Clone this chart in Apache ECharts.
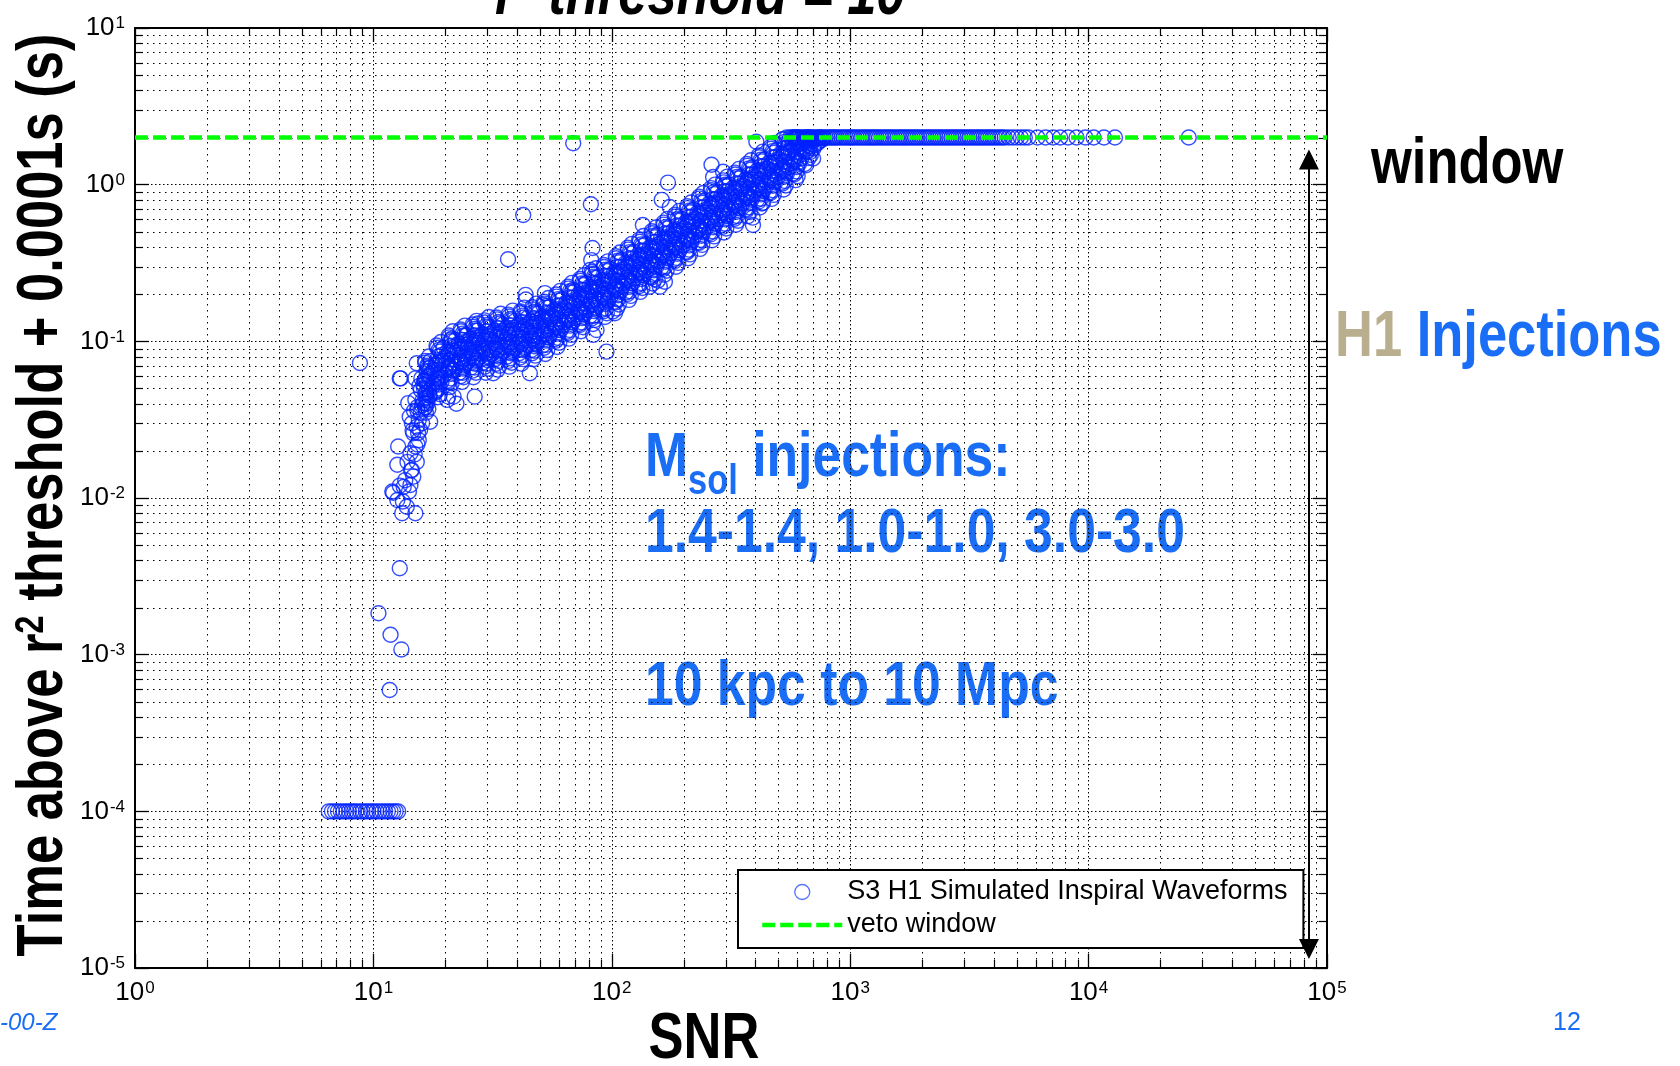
<!DOCTYPE html>
<html><head><meta charset="utf-8">
<script src="https://cdn.jsdelivr.net/npm/echarts@6/dist/echarts.min.js"></script>
<style>html,body{margin:0;padding:0;background:#fff}#c{width:1680px;height:1066px}</style>
</head><body><div id="c"></div>
<script>
// ---------- data ----------
const xDecades = [1, 10, 100, 1000, 10000, 100000];
const yDecades = [1e-5, 1e-4, 1e-3, 1e-2, 1e-1, 1, 10];
const minorMultipliers = [2, 3, 4, 5, 6, 7, 8, 9];
const vetoWindow = 2;
const seriesNames = ['S3 H1 Simulated Inspiral Waveforms', 'veto window'];

// injections whose time is at the 0.0001 s floor
const floorSNR = [6.5,6.7,6.9,7.1,7.3,7.5,7.7,7.9,8.1,8.3,8.5,8.8,9.0,9.3,9.5,9.8,10.0,10.3,10.6,10.9,11.2,11.5,11.8,12.1,12.4,12.7];
const floorTime = 1e-4;

// the steep rise at low SNR
const risePoints = [
[8.78,0.0728],[12.9,3.56e-3],[10.5,1.84e-3],[11.8,1.34e-3],[13.1,1.08e-3],[11.7,5.95e-4],
[12.7,0.0213],[12.6,0.0163],[14.5,0.0151],[12.0,0.0110],[13.4,0.0118],[14.3,0.0121],[12.6,0.0097],
[13.2,0.0080],[15.0,0.0080],[13.8,0.0088],[14.7,0.0137],[14.3,0.0193],[15.0,0.0213],[14.7,0.0259],
[15.2,0.0285],[15.7,0.0272],[15.5,0.0234],[14.5,0.030],[17.3,0.0307],[15.5,0.0315],[14.0,0.0403],
[15.0,0.0423],[16.2,0.0403],[13.0,0.058],[15.2,0.0725],[17.0,0.0673],[15.0,0.058],[16.7,0.0552],
[18.5,0.0489],[20.4,0.0423],[21.7,0.0444],[12.1,0.0108],[14.2,0.033],[14.8,0.036],[15.3,0.038],
[14.6,0.027],[15.4,0.026],[15.8,0.035],[16.0,0.030],[14.9,0.019],[15.3,0.022],[13.9,0.017],
[13.6,0.013],[14.1,0.011],[13.3,0.0095],[12.9,0.012],[15.2,0.017],[14.4,0.015],[16.5,0.040],[17.2,0.045]
];

// main band (first pass)
const bandPoints = [
[15.3,0.036],[15.8,0.049],[16.1,0.042],[16.4,0.056],[16.7,0.047],[15.6,0.052],[16.0,0.039],[16.3,0.050],[16.6,0.044],[15.9,0.058],[16.5,0.038],[16.2,0.053],
[17.1,0.048],[17.5,0.063],[17.8,0.054],[18.2,0.071],[18.5,0.058],[17.3,0.068],[17.6,0.051],[18.0,0.061],[18.4,0.055],[17.4,0.075],[18.1,0.047],[17.9,0.066],
[19.2,0.058],[19.6,0.075],[20.0,0.065],[20.4,0.086],[20.8,0.070],[19.4,0.082],[19.8,0.061],[20.2,0.072],[20.6,0.067],[19.7,0.091],[20.5,0.056],[20.1,0.079],
[21.5,0.065],[22.0,0.085],[22.4,0.073],[22.8,0.097],[23.3,0.079],[21.8,0.092],[22.2,0.069],[22.6,0.081],[23.1,0.075],[22.1,0.102],[22.9,0.063],[22.5,0.089],
[24.0,0.070],[24.6,0.091],[25.0,0.078],[25.5,0.104],[26.0,0.085],[24.3,0.099],[24.8,0.074],[25.2,0.087],[25.8,0.081],[24.5,0.109],[25.6,0.068],[25.1,0.096],
[26.9,0.075],[27.5,0.098],[28.0,0.084],[28.6,0.111],[29.1,0.091],[27.2,0.106],[27.7,0.079],[28.3,0.093],[28.9,0.087],[27.4,0.117],[28.7,0.073],[28.1,0.102],
[30.3,0.079],[31.0,0.103],[31.6,0.088],[32.2,0.117],[32.9,0.096],[30.7,0.111],[31.3,0.083],[31.9,0.098],[32.6,0.091],[31.1,0.123],[32.4,0.077],[31.7,0.108],
[34.1,0.082],[34.8,0.107],[35.5,0.092],[36.2,0.122],[36.9,0.100],[34.4,0.116],[35.2,0.087],[35.8,0.102],[36.6,0.095],[34.9,0.128],[36.4,0.080],[35.6,0.112],
[38.4,0.086],[39.2,0.112],[40.0,0.096],[40.8,0.128],[41.6,0.105],[38.8,0.122],[39.6,0.091],[40.4,0.107],[41.2,0.099],[39.4,0.135],[40.9,0.084],[40.1,0.118],
[43.2,0.090],[44.1,0.118],[45.0,0.101],[45.9,0.134],[46.8,0.110],[43.6,0.128],[44.6,0.095],[45.4,0.112],[46.4,0.104],[44.3,0.141],[46.0,0.088],[45.2,0.123],
[48.0,0.096],[49.0,0.126],[50.0,0.108],[51.0,0.143],[52.0,0.118],[48.5,0.137],[49.5,0.102],[50.5,0.120],[51.5,0.111],[49.2,0.151],[51.2,0.094],[50.2,0.132],
[53.8,0.106],[54.9,0.139],[56.0,0.119],[57.1,0.158],[58.2,0.130],[54.3,0.151],[55.4,0.112],[56.6,0.132],[57.7,0.122],[55.1,0.166],[57.3,0.103],[56.2,0.145],
[60.5,0.118],[61.7,0.155],[63.0,0.133],[64.3,0.177],[65.5,0.146],[61.1,0.169],[62.4,0.126],[63.6,0.148],[64.9,0.137],[62.0,0.186],[64.5,0.115],[63.2,0.163],
[68.2,0.133],[69.6,0.174],[71.0,0.149],[72.4,0.199],[73.8,0.163],[68.9,0.190],[70.3,0.141],[71.7,0.166],[73.1,0.154],[69.9,0.209],[72.6,0.129],[71.2,0.183],
[75.8,0.149],[77.4,0.195],[79.0,0.167],[80.6,0.223],[82.2,0.183],[76.6,0.212],[78.2,0.158],[79.8,0.186],[81.4,0.172],[77.7,0.234],[80.9,0.145],[79.3,0.205],
[85.4,0.163],[87.2,0.214],[89.0,0.184],[90.8,0.245],[92.6,0.200],[86.3,0.233],[88.1,0.173],[89.9,0.204],[91.7,0.190],[87.5,0.257],[91.0,0.159],[89.2,0.224],
[96,0.183],[98,0.240],[100,0.206],[102,0.275],[104,0.225],[97,0.261],[99,0.195],[101,0.229],[103,0.213],[98.5,0.289],[102.5,0.179],[100.5,0.252],
[107.5,0.210],[109.8,0.276],[112,0.237],[114.2,0.316],[116.5,0.258],[108.6,0.300],[110.9,0.224],[113.1,0.263],[115.4,0.245],[110,0.331],[114.6,0.205],[112.5,0.289],
[121,0.236],[123.5,0.310],[126,0.266],[128.5,0.354],[131,0.289],[122,0.336],[124.7,0.251],[127.3,0.295],[129.8,0.274],[123.8,0.372],[129,0.230],[126.4,0.325],
[135,0.265],[138,0.348],[141,0.298],[144,0.397],[147,0.324],[136.5,0.377],[139.5,0.282],[142.5,0.331],[145.5,0.308],[138.5,0.417],[144.5,0.258],[141.5,0.364],
[152,0.304],[155,0.399],[158,0.342],[161,0.456],[164,0.372],[153.5,0.433],[156.5,0.323],[159.5,0.380],[162.5,0.353],[155.5,0.479],[161.5,0.296],[158.5,0.418],
[171,0.342],[174.5,0.448],[178,0.384],[181.5,0.512],[185,0.418],[172.7,0.487],[176.2,0.363],[179.8,0.427],[183.3,0.397],[175,0.538],[182,0.333],[178.5,0.470],
[192,0.383],[196,0.503],[200,0.431],[204,0.575],[208,0.469],[194,0.546],[198,0.407],[202,0.479],[206,0.445],[196.5,0.604],[204.5,0.374],[200.5,0.527],
[215,0.440],[219.5,0.578],[224,0.495],[228.5,0.660],[233,0.539],[217,0.627],[221.8,0.468],[226.2,0.550],[230.8,0.512],[220,0.693],[229,0.429],[224.5,0.605],
[241,0.505],[246,0.663],[251,0.568],[256,0.757],[261,0.618],[243.5,0.719],[248.5,0.536],[253.5,0.631],[258.5,0.587],[246.5,0.795],[256.5,0.492],[251.5,0.694],
[271,0.566],[276,0.743],[282,0.637],[288,0.850],[293,0.694],[273.5,0.807],[279,0.602],[285,0.708],[290.5,0.658],[277,0.892],[288.5,0.552],[282.5,0.779],
[303,0.635],[310,0.834],[316,0.715],[322,0.953],[329,0.778],[306.5,0.905],[313,0.675],[319,0.794],[325.5,0.738],[310.5,1.00],[323,0.619],[316.5,0.873],
[341,0.713],[348,0.936],[355,0.802],[362,1.07],[369,0.873],[344.5,1.016],[351.5,0.757],[358.5,0.891],[365.5,0.829],[348.5,1.12],[363,0.695],[355.5,0.980],
[382,0.818],[390,1.074],[398,0.921],[406,1.228],[414,1.003],[386,1.166],[394,0.870],[402,1.023],[410,0.951],[390.5,1.29],[407,0.798],[398.5,1.125],
[429,0.918],[438,1.205],[447,1.033],[456,1.378],[465,1.125],[433.5,1.309],[442.5,0.976],[451.5,1.148],[460.5,1.068],[438.5,1.45],[457,0.895],[447.5,1.263],
[481,1.054],[491,1.384],[501,1.186],[511,1.58],[521,1.292],[486,1.503],[496,1.120],[506,1.318],[516,1.226],[491.5,1.66],[512,1.028],[501.5,1.450],
[540,1.211],[551,1.590],[562,1.363],[573,1.80],[584,1.484],[545.5,1.726],[556.5,1.287],[567.5,1.514],[578.5,1.408],[551.5,1.87],[574,1.181],[562.5,1.665],
[606,1.390],[618,1.825],[631,1.564],[644,1.98],[656,1.703],[612,1.90],[624.5,1.477],[637.5,1.738],[650,1.616],[619,1.96],[644.5,1.356],[631.5,1.85],
[680,1.62],[694,1.90],[708,1.78],[722,1.99],[736,1.88],[687,1.97],[701,1.70],[715,1.95],[729,1.84],[745,2.0],[760,1.93],[775,1.98]
];

// main band (second pass, between the first-pass groups)
const bandPoints2 = [
[16.5,.038],[16.9,.042],[16.6,.047],[17.0,.050],[16.8,.053],[16.4,.056],[17.1,.060],[16.7,.064],[16.9,.069],[16.5,.073],[17.2,.045],[16.6,.058],
[18.4,.048],[18.9,.053],[18.6,.058],[19.1,.063],[18.8,.066],[18.3,.070],[19.2,.075],[18.7,.080],[19.0,.086],[18.5,.091],[19.3,.055],[18.6,.073],
[20.7,.055],[21.2,.062],[20.9,.068],[21.5,.073],[21.1,.077],[20.6,.082],[21.6,.087],[21.0,.093],[21.3,.100],[20.8,.106],[21.7,.065],[20.9,.085],
[23.2,.060],[23.8,.067],[23.4,.074],[24.1,.080],[23.7,.084],[23.1,.089],[24.2,.095],[23.6,.102],[23.9,.109],[23.3,.116],[24.3,.071],[23.5,.092],
[26.0,.065],[26.7,.072],[26.3,.079],[27.0,.086],[26.6,.090],[25.9,.095],[27.1,.102],[26.5,.109],[26.8,.117],[26.2,.124],[27.2,.076],[26.4,.099],
[29.3,.069],[30.0,.076],[29.6,.084],[30.4,.091],[29.9,.096],[29.1,.101],[30.5,.108],[29.8,.116],[30.2,.124],[29.4,.132],[30.6,.080],[29.7,.105],
[32.8,.072],[33.6,.080],[33.1,.088],[34.0,.095],[33.5,.100],[32.7,.106],[34.2,.113],[33.4,.121],[33.9,.130],[33.0,.138],[34.3,.084],[33.2,.110],
[36.8,.075],[37.7,.084],[37.2,.092],[38.2,.099],[37.6,.105],[36.7,.111],[38.4,.118],[37.5,.126],[38.0,.136],[37.0,.144],[38.5,.088],[37.3,.115],
[41.3,.079],[42.3,.088],[41.7,.096],[42.9,.104],[42.2,.110],[41.2,.116],[43.1,.124],[42.0,.132],[42.6,.142],[41.5,.151],[43.2,.092],[41.9,.120],
[46.3,.084],[47.4,.093],[46.8,.102],[48.1,.110],[47.3,.116],[46.2,.123],[48.3,.131],[47.1,.140],[47.8,.151],[46.6,.160],[48.4,.097],[46.9,.128],
[52.0,.091],[53.2,.101],[52.5,.111],[54.0,.120],[53.1,.126],[51.9,.134],[54.2,.142],[52.9,.152],[53.7,.164],[52.3,.174],[54.4,.106],[52.7,.139],
[58.3,.101],[59.7,.112],[58.9,.123],[60.6,.133],[59.6,.140],[58.2,.148],[60.9,.158],[59.3,.169],[60.3,.182],[58.6,.193],[61.0,.118],[59.1,.154],
[65.4,.113],[67.0,.126],[66.1,.138],[68.0,.149],[66.8,.157],[65.2,.166],[68.3,.177],[66.5,.190],[67.6,.204],[65.8,.217],[68.4,.132],[66.3,.173],
[73.4,.127],[75.2,.141],[74.2,.155],[76.3,.167],[75.0,.176],[73.2,.187],[76.6,.199],[74.6,.213],[75.8,.229],[73.8,.243],[76.8,.148],[74.4,.194],
[82.3,.140],[84.3,.156],[83.2,.172],[85.6,.185],[84.1,.195],[82.1,.207],[85.9,.220],[83.7,.236],[85.0,.254],[82.8,.269],[86.1,.164],[83.4,.215],
[92.4,.156],[94.6,.173],[93.4,.190],[96.1,.205],[94.4,.216],[92.2,.229],[96.4,.244],[93.9,.261],[95.4,.281],[92.9,.298],[96.6,.181],[93.6,.238],
[103.7,.177],[106.3,.197],[104.8,.216],[107.9,.234],[106,.246],[103.5,.261],[108.2,.278],[105.4,.298],[107.1,.320],[104.3,.339],[108.5,.207],[105.1,.271],
[116.4,.201],[119.3,.223],[117.7,.246],[121.1,.265],[119,.279],[116.2,.296],[121.5,.315],[118.4,.338],[120.2,.363],[117.1,.385],[121.8,.234],[118,.307],
[130.1,.225],[133.4,.250],[131.5,.275],[135.4,.297],[133,.313],[129.9,.332],[135.8,.354],[132.3,.379],[134.4,.407],[130.9,.432],[136.1,.263],[131.9,.344],
[146.7,.256],[150.4,.284],[148.3,.312],[152.7,.337],[150,.355],[146.5,.376],[153.1,.401],[149.2,.430],[151.5,.462],[147.6,.490],[153.5,.298],[148.8,.391],
[164.3,.290],[168.5,.322],[166.1,.355],[171,.383],[168,.403],[164.1,.427],[171.5,.455],[167.1,.488],[169.7,.524],[165.3,.556],[171.9,.339],[166.6,.443],
[183.9,.326],[188.6,.362],[185.9,.399],[191.4,.430],[188,.453],[183.6,.480],[192,.512],[187,.548],[189.9,.589],[185,.625],[192.4,.381],[186.5,.498],
[206.4,.369],[211.6,.410],[208.7,.451],[214.8,.487],[211,.513],[206.1,.544],[215.4,.580],[209.9,.621],[213.1,.667],[207.6,.708],[215.9,.431],[209.3,.564],
[231.8,.425],[237.7,.472],[234.4,.519],[241.3,.561],[237,.590],[231.5,.625],[242,.667],[235.8,.714],[239.4,.767],[233.2,.814],[242.5,.496],[235.1,.649],
[260.2,.482],[266.8,.535],[263.1,.589],[270.8,.636],[266,.669],[259.8,.709],[271.6,.756],[264.6,.809],[268.7,.870],[261.7,.923],[272.2,.562],[263.9,.736],
[292.5,.540],[299.9,.600],[295.7,.660],[304.4,.713],[299,.750],[292,.795],[305.3,.848],[297.5,.908],[302,.975],[294.2,1.035],[306,.630],[296.6,.825],
[327.7,.606],[336,.673],[331.3,.740],[341,.799],[335,.841],[327.2,.891],[342,.950],[333.3,1.018],[338.4,1.093],[329.6,1.161],[342.8,.706],[332.3,.925],
[367.8,.688],[377.1,.764],[371.9,.840],[382.8,.907],[376,.955],[367.2,1.012],[383.9,1.079],[374.1,1.156],[379.8,1.242],[369.9,1.318],[384.8,.802],[372.9,1.051],
[412.8,.780],[423.3,.867],[417.4,.954],[429.6,1.030],[422,1.084],[412.1,1.149],[430.9,1.225],[419.9,1.312],[426.3,1.409],[415.2,1.496],[431.9,.911],[418.6,1.192],
[462.7,.886],[474.4,.984],[467.8,1.082],[481.5,1.169],[473,1.230],[462,1.304],[482.9,1.390],[470.6,1.488],[477.7,1.599],[465.3,1.697],[484,1.033],[469.1,1.353],
[519.3,1.015],[532.6,1.128],[525.2,1.241],[540.6,1.340],[531,1.41],[518.6,1.495],[542.1,1.593],[528.3,1.706],[536.3,1.833],[522.5,1.946],[543.4,1.184],[526.7,1.551],
[583,1.166],[597.8,1.296],[589.4,1.426],[606.7,1.539],[596,1.62],[582.2,1.717],[608.5,1.831],[593,1.960],[602,2.0],[586.5,1.98],[610,1.361],[591,1.782],
[653,1.33],[670,1.48],[661,1.63],[680,1.76],[668,1.85],[652,1.94],[682,2.0],[665,1.99],[675,1.97],[657,2.0],[684,1.55],[663,1.90]
];

// main band (outer fringe, upper and lower edges)
const bandFringe = [
[16.6,.035],[17.0,.037],[16.5,.075],[17.1,.080],[16.8,.040],[16.8,.070],
[18.6,.044],[19.0,.046],[18.4,.094],[19.2,.099],[18.8,.050],[18.8,.088],
[20.9,.051],[21.3,.054],[20.7,.109],[21.5,.116],[21.1,.058],[21.1,.102],
[23.5,.055],[23.9,.059],[23.2,.119],[24.2,.126],[23.7,.063],[23.7,.112],
[26.3,.059],[26.9,.063],[26.1,.128],[27.1,.135],[26.6,.068],[26.6,.120],
[29.6,.063],[30.2,.067],[29.3,.136],[30.5,.143],[29.9,.072],[29.9,.127],
[33.2,.066],[33.8,.070],[32.8,.142],[34.2,.150],[33.5,.075],[33.5,.133],
[37.2,.069],[38.0,.073],[36.8,.148],[38.4,.157],[37.6,.078],[37.6,.139],
[41.8,.072],[42.6,.077],[41.4,.155],[43.0,.164],[42.2,.082],[42.2,.146],
[46.8,.077],[47.8,.081],[46.4,.165],[48.2,.174],[47.3,.087],[47.3,.154],
[52.6,.083],[53.6,.088],[52.0,.179],[54.2,.189],[53.1,.095],[53.1,.168],
[59.0,.092],[60.2,.098],[58.4,.199],[60.8,.210],[59.6,.105],[59.6,.186],
[66.1,.104],[67.5,.110],[65.5,.223],[68.1,.236],[66.8,.118],[66.8,.209],
[74.3,.116],[75.8,.123],[73.5,.250],[76.5,.264],[75.0,.132],[75.0,.234],
[83.3,.129],[84.9,.137],[82.4,.277],[85.8,.293],[84.1,.146],[84.1,.259],
[93.5,.143],[95.3,.151],[92.5,.307],[96.3,.324],[94.4,.162],[94.4,.287],
[105,.162],[107,.172],[104,.349],[108,.369],[106,.185],[106,.327],
[118,.184],[120,.195],[116.6,.396],[121.4,.419],[119,.209],[119,.371],
[131.7,.207],[134.3,.219],[130.3,.444],[135.7,.470],[133,.235],[133,.416],
[148.5,.234],[151.5,.249],[147,.504],[153,.533],[150,.266],[150,.472],
[166.3,.266],[169.7,.282],[164.6,.572],[171.4,.605],[168,.302],[168,.536],
[186,.299],[190,.317],[184,.643],[192,.680],[188,.340],[188,.602],
[209,.339],[213,.359],[207,.728],[215,.770],[211,.385],[211,.682],
[234.6,.389],[239.4,.413],[232.3,.838],[241.7,.885],[237,.443],[237,.785],
[263.3,.442],[268.7,.468],[260.7,.950],[271.3,1.00],[266,.502],[266,.890],
[296,.495],[302,.525],[293,1.065],[305,1.125],[299,.563],[299,.998],
[331.7,.555],[338.4,.589],[328.3,1.194],[341.7,1.262],[335,.631],[335,1.119],
[372.2,.630],[379.8,.669],[368.5,1.356],[383.5,1.433],[376,.716],[376,1.270],
[417.8,.715],[426.2,.759],[413.6,1.539],[430.4,1.626],[422,.813],[422,1.442],
[468.3,.812],[477.7,.861],[463.5,1.747],[482.5,1.845],[473,.923],[473,1.636],
[525.7,.931],[536.3,.987],[520.4,1.95],[541.6,2.0],[531,1.058],[531,1.875],
[590,1.069],[602,1.134],[584,2.0],[608,1.99],[596,1.215],[596,1.98]
];

// isolated injections around the band
const outlierPoints = [
[68.9,1.84],[81.7,0.75],[42.5,0.64],[36.7,0.334],[43.5,0.198],[52.4,0.203],[83,0.394],[82,0.330],[81,0.285],
[68.9,0.213],[43.6,0.185],[51.5,0.171],[27.5,0.130],[24.6,0.110],[21.3,0.104],[12.9,0.058],[45.3,0.0625],
[31.8,0.0625],[95,0.086],[83.5,0.110],[86.3,0.118],[103,0.151],[167,0.240],[144,0.223],[159,0.223],
[26.6,0.0444],[22.3,0.040],[20.6,0.0444],[172,1.03],[262,1.34],[266,1.12],[293,1.21],[162,0.80],[175,0.72],
[135,0.553],[391,0.553],[431,0.767],[404,1.88],[101,0.155],[699,1.47],[156,0.244],[390,0.616]
];

// injections whose time saturates at the veto window
const saturatedSNR = [560,570,580,590,600,612,625,637,650,662,675,687,700,715,730,745,760,775,790,805,820,835,850,865,880,900,920,940,960,980,
1000,1020,1040,1065,1090,1115,1140,1165,1190,1215,1240,1265,1290,1320,1350,1380,1410,1440,1470,1505,1540,1575,1610,1645,1680,1715,1750,1790,1830,1870,
1910,1955,2000,2045,2090,2135,2180,2230,2280,2330,2380,2435,2490,2545,2600,2660,2720,2780,2840,2905,2970,3035,3100,3170,3240,3315,3390,3465,3540,3620,
3700,3785,3870,3960,4050,4150,4250,4350,4450,4620,4800,5000,5200,5400,5600,6100,6600,7100,7600,8200,8900,9700,10500,11600,12900,26300];

// double arrow annotation ("window")
const arrowSNR = 84000;
const arrowSpan = [1.45, 1.32e-5];

// ---------- fonts ----------
function hasFont(name) {
  const c = document.createElement('canvas').getContext('2d');
  const s = 'Time above threshold window 0123';
  c.font = 'bold 64px monospace'; const w0 = c.measureText(s).width;
  c.font = 'bold 64px "' + name + '", monospace'; const w1 = c.measureText(s).width;
  return Math.abs(w0 - w1) > 0.5;
}
const NARROW = hasFont('Liberation Sans Narrow');
const BF = NARROW ? '"Liberation Sans Narrow"' : '"Liberation Sans", Arial';
const SX = NARROW ? 1 : 0.82;
const RF = '"Liberation Sans", Arial, sans-serif';
const BLUE = '#1a6ef5';
const MARK = '#0022ff';

// ---------- build ----------
const scatterData = []
  .concat(floorSNR.map(s => [s, floorTime]))
  .concat(risePoints)
  .concat(bandPoints)
  .concat(bandPoints2)
  .concat(bandFringe)
  .concat(outlierPoints)
  .concat(saturatedSNR.map(s => [s, vetoWindow]));

const xMinor = [], yMinor = [];
xDecades.slice(0, -1).forEach(d => minorMultipliers.forEach(m => xMinor.push([d * m, 1])));
yDecades.slice(0, -1).forEach(d => minorMultipliers.forEach(m => yMinor.push([10, d * m])));

function expLabel(v) {
  const e = Math.round(Math.log10(v));
  return '{b|10}{s|' + e + '}';
}
const labelRich = {
  b: { fontSize: 26, fontFamily: RF, color: '#000', lineHeight: 26, verticalAlign: 'bottom' },
  s: { fontSize: 17, fontFamily: RF, color: '#000', lineHeight: 18, padding: [0, 0, 16, 1], verticalAlign: 'top' }
};
const tickStyle = { show: true, inside: true, length: 14, lineStyle: { color: '#000', width: 1.3 } };
const axisLine = { show: true, lineStyle: { color: '#000', width: 2 } };
const majorGrid = { show: true, lineStyle: { color: '#000', width: 1, type: [1.5, 2.5] } };

function minorRenderer(isX) {
  return function (params, api) {
    const cs = params.coordSys;
    const p = api.coord([api.value(0), api.value(1)]);
    const L = 8, st = { stroke: '#000', lineWidth: 1.2 };
    if (isX) {
      const x = Math.round(p[0]) + 0.5, y0 = cs.y, y1 = cs.y + cs.height;
      return { type: 'group', children: [
        { type: 'line', shape: { x1: x, y1: y0, x2: x, y2: y1 }, style: { stroke: '#000', lineWidth: 1, lineDash: [1.5, 4.5] } },
        { type: 'line', shape: { x1: x, y1: y1, x2: x, y2: y1 - L }, style: st },
        { type: 'line', shape: { x1: x, y1: y0, x2: x, y2: y0 + L }, style: st }
      ]};
    } else {
      const y = Math.round(p[1]) + 0.5, x0 = cs.x, x1 = cs.x + cs.width;
      return { type: 'group', children: [
        { type: 'line', shape: { x1: x0, y1: y, x2: x1, y2: y }, style: { stroke: '#000', lineWidth: 1, lineDash: [1.5, 4.5] } },
        { type: 'line', shape: { x1: x0, y1: y, x2: x0 + L, y2: y }, style: st },
        { type: 'line', shape: { x1: x1, y1: y, x2: x1 - L, y2: y }, style: st }
      ]};
    }
  };
}

const xBase = { type: 'log', logBase: 10, min: xDecades[0], max: xDecades[xDecades.length - 1], interval: 1 };
const yBase = { type: 'log', logBase: 10, min: yDecades[0], max: yDecades[yDecades.length - 1], interval: 1 };
const vetoLine = { color: '#00ff00', width: 4.5, type: [13, 5] };

const chart = echarts.init(document.getElementById('c'), null, { renderer: 'canvas' });
chart.setOption({
  animation: false,
  backgroundColor: '#fff',
  grid: { left: 135, top: 28, right: 353, bottom: 98, containLabel: false },
  xAxis: [
    Object.assign({}, xBase, { position: 'bottom', axisLine, axisTick: tickStyle, splitLine: majorGrid,
      axisLabel: { formatter: expLabel, rich: labelRich, margin: 12, showMinLabel: true, showMaxLabel: true } }),
    Object.assign({}, xBase, { position: 'top', axisLine, axisTick: tickStyle, splitLine: { show: false }, axisLabel: { show: false } })
  ],
  yAxis: [
    Object.assign({}, yBase, { position: 'left', axisLine, axisTick: tickStyle, splitLine: majorGrid,
      axisLabel: { formatter: expLabel, rich: labelRich, margin: 10, showMinLabel: true, showMaxLabel: true } }),
    Object.assign({}, yBase, { position: 'right', axisLine, axisTick: tickStyle, splitLine: { show: false }, axisLabel: { show: false } })
  ],
  legend: {
    data: [
      { name: seriesNames[0], icon: 'circle', itemStyle: { color: 'rgba(0,0,0,0)', borderColor: '#3050ff', borderWidth: 1.3 } },
      { name: seriesNames[1], itemStyle: { color: 'rgba(0,0,0,0)', borderWidth: 0, opacity: 0 }, lineStyle: vetoLine }
    ],
    orient: 'vertical', left: 738, top: 870,
    itemWidth: 80, itemHeight: 15, itemGap: 3,
    padding: [7, 16, 8, 22],
    backgroundColor: '#fff', borderColor: '#000', borderWidth: 2, borderRadius: 0,
    textStyle: { fontSize: 27, fontFamily: RF, color: '#000', lineHeight: 30 },
    selectedMode: false
  },
  series: [
    { type: 'custom', name: 'xminor', silent: true, z: 1, data: xMinor, renderItem: minorRenderer(true), encode: { x: 0, y: 1 } },
    { type: 'custom', name: 'yminor', silent: true, z: 1, data: yMinor, renderItem: minorRenderer(false), encode: { x: 0, y: 1 } },
    {
      type: 'scatter', name: seriesNames[0], z: 3, data: scatterData,
      symbol: 'circle', symbolSize: 15,
      itemStyle: { color: 'rgba(0,0,0,0)', borderColor: MARK, borderWidth: 1.4 },
      silent: true
    },
    {
      type: 'line', name: seriesNames[1], z: 4,
      data: [[xBase.min, vetoWindow], [xBase.max, vetoWindow]],
      symbol: 'none', showSymbol: false,
      lineStyle: vetoLine,
      itemStyle: { color: '#00ff00' },
      silent: true,
      markLine: {
        silent: true, animation: false,
        symbol: ['triangle', 'triangle'], symbolSize: [20, 20],
        label: { show: false },
        lineStyle: { color: '#000', width: 2, type: 'solid' },
        itemStyle: { color: '#000' },
        data: [[{ coord: [arrowSNR, arrowSpan[0]] }, { coord: [arrowSNR, arrowSpan[1]] }]]
      }
    }
  ],
  graphic: [
    { type: 'text', x: 495, y: -4, scaleX: SX, silent: true,
      style: { text: '{a|r}{s|2}{a| threshold = 10}', align: 'left', verticalAlign: 'middle',
        rich: { a: { fontSize: 64, fontWeight: 'bold', fontStyle: 'italic', fontFamily: BF, fill: '#000', lineHeight: 64, verticalAlign: 'bottom' },
                s: { fontSize: 40, fontWeight: 'bold', fontStyle: 'italic', fontFamily: BF, fill: '#000', lineHeight: 40, verticalAlign: 'top' } } } },
    { type: 'text', x: 44, y: 495, rotation: Math.PI / 2, scaleX: SX, silent: true,
      style: { text: '{a|Time above r}{s|2}{a| threshold + 0.0001s (s)}', align: 'center', verticalAlign: 'middle',
        rich: { a: { fontSize: 64, fontWeight: 'bold', fontFamily: BF, fill: '#000', lineHeight: 64, verticalAlign: 'bottom' },
                s: { fontSize: 40, fontWeight: 'bold', fontFamily: BF, fill: '#000', lineHeight: 40, verticalAlign: 'top' } } } },
    { type: 'text', x: 704, y: 1040, scaleX: SX, silent: true,
      style: { text: 'SNR', align: 'center', verticalAlign: 'middle', fontSize: 64, fontWeight: 'bold', fontFamily: BF, fill: '#000' } },
    { type: 'text', x: 1371, y: 165, scaleX: SX, silent: true,
      style: { text: 'window', align: 'left', verticalAlign: 'middle', fontSize: 64, fontWeight: 'bold', fontFamily: BF, fill: '#000' } },
    { type: 'text', x: 1335, y: 338, scaleX: SX, silent: true,
      style: { text: '{h|H1} {i|Injections}', align: 'left', verticalAlign: 'middle',
        rich: { h: { fontSize: 64, fontWeight: 'bold', fontFamily: BF, fill: '#b9ae8e' },
                i: { fontSize: 64, fontWeight: 'bold', fontFamily: BF, fill: BLUE } }, fontSize: 64, fontWeight: 'bold', fontFamily: BF } },
    { type: 'text', x: 645, y: 427.5, scaleX: SX, silent: true,
      style: { text: '{m|M}{sub|sol}{m| injections:}', align: 'left', verticalAlign: 'top',
        rich: { m: { fontSize: 63, fontWeight: 'bold', fontFamily: BF, fill: BLUE, lineHeight: 64, verticalAlign: 'top' },
                sub: { fontSize: 42, fontWeight: 'bold', fontFamily: BF, fill: BLUE, lineHeight: 42, padding: [34, 0, 0, 0], verticalAlign: 'top' } } } },
    { type: 'text', x: 645, y: 535, scaleX: SX, silent: true,
      style: { text: '1.4-1.4, 1.0-1.0, 3.0-3.0', align: 'left', verticalAlign: 'middle', fontSize: 63, fontWeight: 'bold', fontFamily: BF, fill: BLUE } },
    { type: 'text', x: 645, y: 688, scaleX: SX, silent: true,
      style: { text: '10 kpc to 10 Mpc', align: 'left', verticalAlign: 'middle', fontSize: 63, fontWeight: 'bold', fontFamily: BF, fill: BLUE } },
    { type: 'text', x: 0, y: 1023, silent: true,
      style: { text: '-00-Z', align: 'left', verticalAlign: 'middle', fontSize: 24, fontStyle: 'italic', fontFamily: RF, fill: BLUE } },
    { type: 'text', x: 1567, y: 1023, silent: true,
      style: { text: '12', align: 'center', verticalAlign: 'middle', fontSize: 25, fontFamily: RF, fill: BLUE } }
  ]
});
</script>
</body></html>
